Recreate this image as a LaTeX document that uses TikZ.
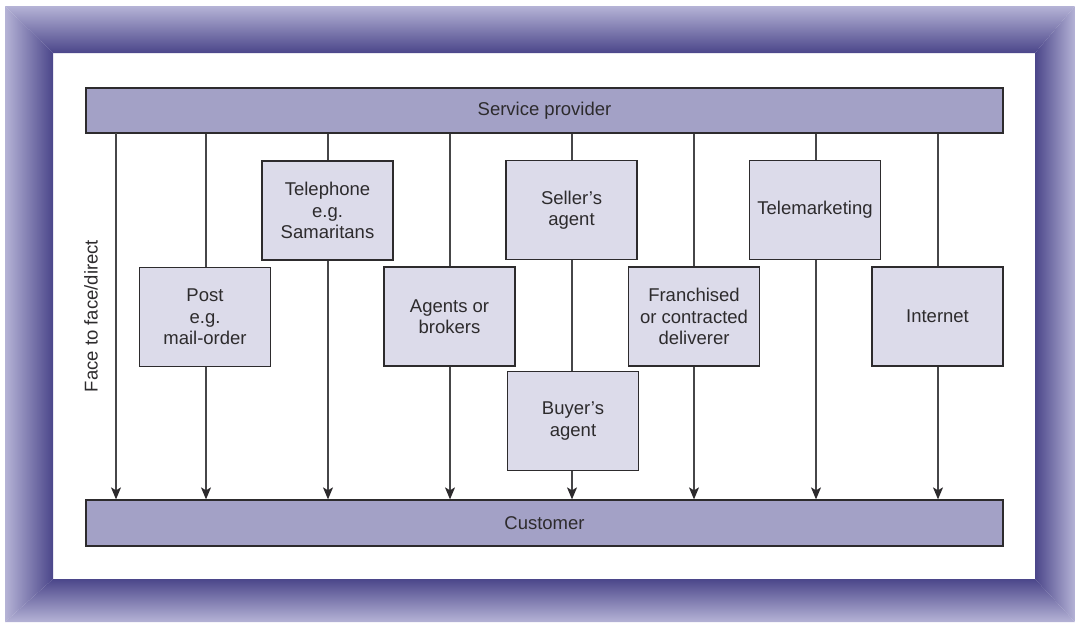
\documentclass[tikz,border=0pt]{standalone}
\usepackage{fontspec}
\setmainfont{Liberation Sans}
\usetikzlibrary{positioning,calc,arrows.meta}
\definecolor{framelight}{RGB}{181,179,214}
\definecolor{framedark}{RGB}{75,70,138}
\definecolor{barfill}{RGB}{163,161,198}
\definecolor{boxfill}{RGB}{220,219,234}
\definecolor{inkgray}{RGB}{45,43,45}
\definecolor{linegray}{RGB}{70,70,72}

\begin{document}
\begin{tikzpicture}[x=1pt,y=-1pt,
    every node/.style={font=\fontsize{18.5}{21.5}\selectfont, text=inkgray},
    bar/.style={draw=inkgray, line width=1.3pt, fill=barfill, minimum width=917pt, minimum height=45pt, inner sep=0pt},
    chan/.style={draw=inkgray, line width=1.1pt, fill=boxfill, minimum width=131pt, minimum height=99pt, align=center, inner sep=0pt},
    link/.style={draw=linegray, line width=1.3pt},
    arr/.style={link, -{Stealth[length=12pt,width=10pt,inset=3pt,color=inkgray]}}]
    \useasboundingbox (0,0) rectangle (1075,622);
    \fill[white] (0,0) rectangle (1075,622);

    % Shaded frame (mitred sides)
    \begin{scope}
        \clip (5,6) -- (1075,6) -- (1035,53) -- (53,53) -- cycle;
        \shade[top color=framelight, bottom color=framedark] (5,6) rectangle (1075,53);
    \end{scope}
    \begin{scope}
        \clip (5,622) -- (1075,622) -- (1035,579) -- (53,579) -- cycle;
        \shade[top color=framedark, bottom color=framelight] (5,579) rectangle (1075,622);
    \end{scope}
    \begin{scope}
        \clip (5,6) -- (53,53) -- (53,579) -- (5,622) -- cycle;
        \shade[left color=framelight, right color=framedark] (5,6) rectangle (53,622);
    \end{scope}
    \begin{scope}
        \clip (1075,6) -- (1035,53) -- (1035,579) -- (1075,622) -- cycle;
        \shade[left color=framedark, right color=framelight] (1035,6) rectangle (1075,622);
    \end{scope}

    % Provider and customer bars
    \node[bar] (sp) at (544.5,110.5) {Service provider};
    \node[bar, minimum height=46pt] (cu) at (544.5,523) {Customer};

    % Channel boxes
    \foreach \n/\x/\y/\txt in {post/205/317/{Post\\e.g.\\mail-order},
                               tel/327.5/210.5/{Telephone\\e.g.\\Samaritans},
                               agt/449.5/316.5/{Agents or\\brokers},
                               sell/571.5/210/{Seller's\\agent},
                               buy/573/421/{Buyer's\\agent},
                               fran/694/316.5/{Franchised\\or contracted\\deliverer},
                               tmk/815/210/{Telemarketing},
                               net/937.5/316.5/{Internet}} {
        \node[chan] (\n) at (\x,\y) {\txt};
    }

    % Direct channel
    \coordinate (ff) at (116,133);
    \draw[arr] (ff) -- (cu.north -| ff);
    \node[rotate=90] (fftxt) at (91,316) {Face to face/direct};

    % Connectors
    \foreach \n/\x in {post/206,tel/328,agt/450,fran/694,tmk/816,net/938} {
        \draw[link] (sp.south -| \x,0) -- (\n.north -| \x,0);
        \draw[arr] (\n.south -| \x,0) -- (cu.north -| \x,0);
    }
    \draw[link] (sp.south -| 572,0) -- (sell.north -| 572,0);
    \draw[link] (sell.south -| 572,0) -- (buy.north -| 572,0);
    \draw[arr] (buy.south -| 572,0) -- (cu.north -| 572,0);
\end{tikzpicture}
\end{document}
